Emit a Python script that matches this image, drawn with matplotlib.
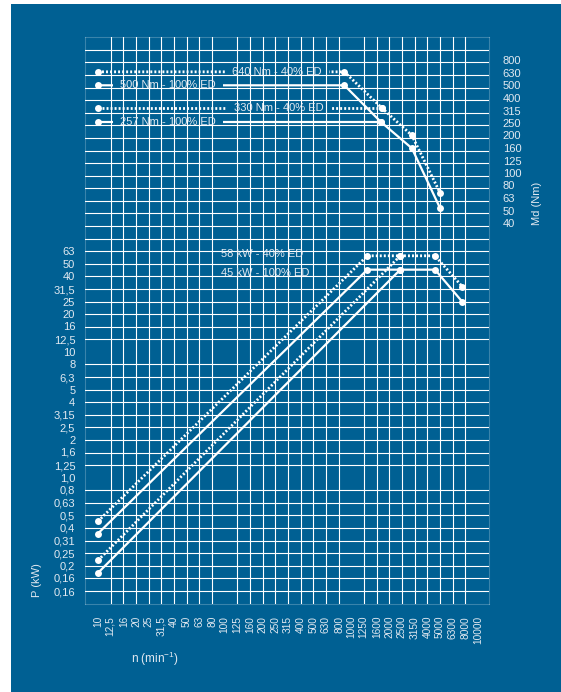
import numpy as np
import matplotlib.pyplot as plt
from matplotlib.patches import Rectangle
from matplotlib.ticker import NullFormatter, NullLocator

plt.rcParams['font.family'] = ['Liberation Sans', 'DejaVu Sans']
plt.rcParams['mathtext.fontset'] = 'custom'
plt.rcParams['mathtext.rm'] = 'Liberation Sans'

BG = '#006093'
FG = '#e2e9f1'
GRID = (1, 1, 1, 0.23)

# speed axis (Renard series)
n_ticks = [10, 12.5, 16, 20, 25, 31.5, 40, 50, 63, 80, 100, 125, 160, 200, 250,
           315, 400, 500, 630, 800, 1000, 1250, 1600, 2000, 2500, 3150, 4000,
           5000, 6300, 8000, 10000]
n_labels = [str(v).replace('.', ',') for v in n_ticks]

# torque axis
md_ticks = [40, 50, 63, 80, 100, 125, 160, 200, 250, 315, 400, 500, 630, 800]
md_labels = [str(v) for v in md_ticks]

# power axis
p_ticks = [0.125, 0.16, 0.2, 0.25, 0.315, 0.4, 0.5, 0.63, 0.8, 1.0, 1.25, 1.6, 2,
           2.5, 3.15, 4, 5, 6.3, 8, 10, 12.5, 16, 20, 25, 31.5, 40, 50, 63]
p_labels = ['0,16', '0,16', '0,2', '0,25', '0,31', '0,4', '0,5', '0,63', '0,8',
            '1,0', '1,25', '1,6', '2', '2,5', '3,15', '4', '5', '6,3', '8', '10',
            '12,5', '16', '20', '25', '31,5', '40', '50', '63']

# torque curves
md40_n = [10, 880, 1740, 3000, 5000]
md40_v = [640, 640, 330, 200, 70]
md40b_n = [10, 1740]
md40b_v = [330, 330]
md100_n = [10, 880, 1700, 3000, 5000]
md100_v = [500, 500, 257, 158, 53]
md100b_n = [10, 1700]
md100b_v = [257, 257]

# power curves
p40_n = [10, 1335, 2430, 4570, 7500]
p40_v = [0.45, 58, 58, 58, 33]
p40b_n = [10, 2430]
p40b_v = [0.22, 58]
p100_n = [10, 1335, 2430, 4570, 7500]
p100_v = [0.36, 45, 45, 45, 25]
p100b_n = [10, 2430]
p100b_v = [0.175, 45]

fig = plt.figure(figsize=(5.61, 6.92), dpi=100)
fig.add_artist(Rectangle((11 / 561, 0), 1, 1 - 4 / 692, transform=fig.transFigure,
                         facecolor=BG, edgecolor='none', zorder=0))

ax = fig.add_axes([85.3 / 561, 1 - 603.5 / 692, 404 / 561, 566.2 / 692])
ax.set_facecolor(BG)
ax2 = ax.twinx()

ax.set_xscale('log')
ax.set_yscale('log')
ax2.set_yscale('log')
ax.set_xlim(10 ** 0.9, 12250)
ax.set_ylim(0.038, 1204)
ax2.set_ylim(0.1, 10 ** 3.5)

dotted = dict(color='white', lw=2.0, linestyle=(0, (0.7, 0.75)), marker='o',
              markersize=5, markeredgewidth=0, solid_capstyle='butt')
solid = dict(color='white', lw=1.6, marker='o', markersize=5, markeredgewidth=0)

ax.plot(md40_n, md40_v, **dotted)
ax.plot(md40b_n, md40b_v, **dotted)
ax.plot(md100_n, md100_v, **solid)
ax.plot(md100b_n, md100b_v, **solid)

ax2.plot(p40_n, p40_v, **dotted)
ax2.plot(p40b_n, p40b_v, **dotted)
ax2.plot(p100_n, p100_v, **solid)
ax2.plot(p100b_n, p100b_v, **solid)

# labels on the torque lines (top axes, above the grid)
tr2 = ax2.get_yaxis_transform()
md_texts = []
for x, v, s in [(0.4745, 640, '640 Nm - 40% ED'), (0.2047, 500, '500 Nm - 100% ED'),
                (0.4788, 330, '330 Nm - 40% ED'), (0.2047, 257, '257 Nm - 100% ED')]:
    y = ax2.transData.inverted().transform(ax.transData.transform((10, v)))[1]
    md_texts.append(ax2.text(x, y, s, transform=tr2, ha='center', va='center',
                             fontsize=8, color=FG, zorder=4))

ax2.text(0.336, 0.6173, '58 kW - 40% ED', transform=ax2.transAxes, ha='left',
         va='center', fontsize=8, color=FG, zorder=4)
ax2.text(0.336, 0.5837, '45 kW - 100% ED', transform=ax2.transAxes, ha='left',
         va='center', fontsize=8, color=FG, zorder=4)

# ticks
ax.set_xticks(n_ticks)
ax.set_xticklabels(n_labels, rotation=90)
ax.set_xticks(10 ** (np.arange(10, 41) / 10), minor=True)
ax.xaxis.set_minor_formatter(NullFormatter())
ax.yaxis.tick_right()
ax.yaxis.set_label_position('right')
ax.set_yticks(md_ticks)
ax.set_yticklabels(md_labels)
ax.yaxis.set_minor_locator(NullLocator())
ax2.yaxis.tick_left()
ax2.yaxis.set_label_position('left')
ax2.set_yticks(p_ticks)
ax2.set_yticklabels(p_labels)
ax2.set_yticks(10 ** (np.arange(1, 45) / 10 - 1), minor=True)
ax2.yaxis.set_minor_formatter(NullFormatter())
ax2.xaxis.set_visible(True)
ax2.tick_params(axis='x', which='both', labelbottom=False, length=0)

ax.tick_params(axis='x', which='both', length=0, pad=9, labelsize=7.3, colors=FG)
ax.tick_params(axis='y', which='both', length=0, pad=9.6, labelsize=8, colors=FG)
ax2.tick_params(axis='y', which='both', length=0, pad=7.2, labelsize=8, colors=FG)

ax.grid(False)
ax2.set_axisbelow(False)
ax2.grid(True, which='minor', axis='both', color=GRID, lw=0.8)
ax2.grid(False, which='major')
for sp in ax2.spines.values():
    sp.set_color(GRID)
    sp.set_linewidth(0.8)
ax.spines[:].set_visible(False)

ax.set_xlabel(r'n (min$^{\mathregular{-1}}$)', fontsize=8.5, color=FG)
ax.xaxis.set_label_coords(0.1725, -0.082)
ax.set_ylabel('Md (Nm)', fontsize=8, color=FG)
ax.yaxis.set_label_coords(1.106, 0.707)
ax2.set_ylabel('P (kW)', fontsize=8, color=FG)
ax2.yaxis.set_label_coords(-0.107, 0.0415)

# break the torque lines behind their labels
fig.canvas.draw()
for t in md_texts:
    bb = t.get_window_extent()
    x0, y0 = ax.transAxes.inverted().transform((bb.x0 - 7, bb.y0))
    x1, y1 = ax.transAxes.inverted().transform((bb.x1 + 7, bb.y1))
    ax.add_patch(Rectangle((x0, y0), x1 - x0, y1 - y0, transform=ax.transAxes,
                           facecolor=BG, edgecolor='none', zorder=3))

fig.savefig('out.png', dpi=100, facecolor='white')
